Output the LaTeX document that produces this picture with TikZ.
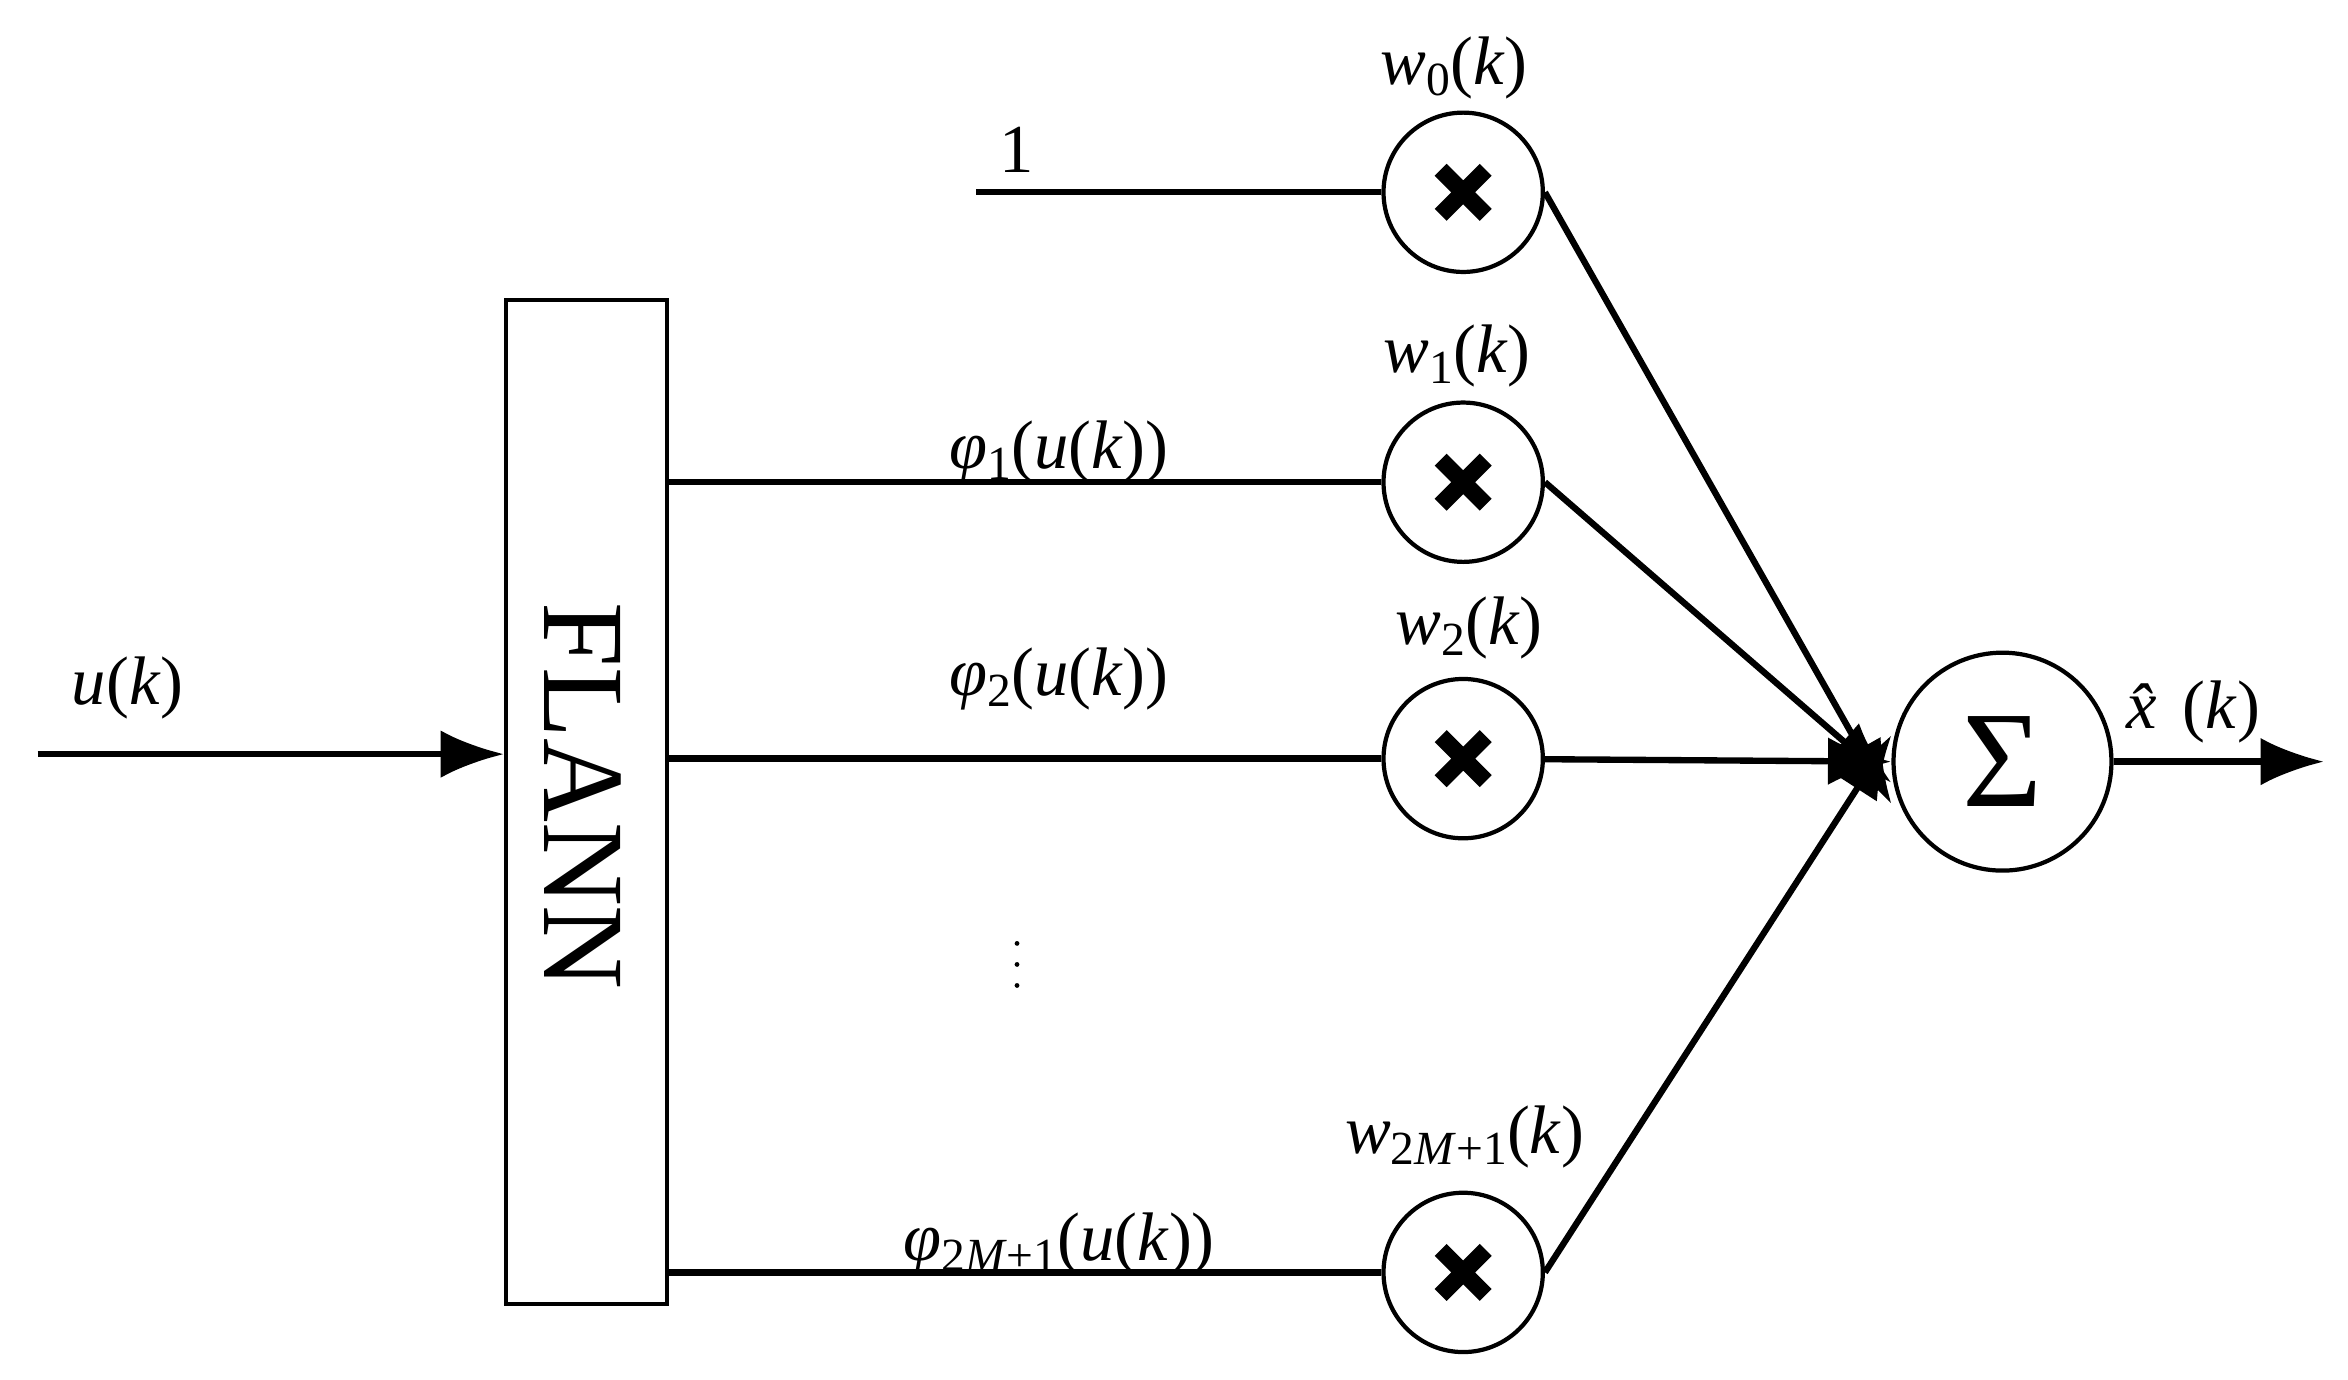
\documentclass[tikz,border=0pt]{standalone}
\usepackage{fontspec}
\setmainfont{Liberation Serif}
\usetikzlibrary{arrows.meta}
\newcommand{\sbs}[1]{\raisebox{-0.35ex}{\fontsize{9}{10}\selectfont #1}}
\begin{document}
\begin{tikzpicture}[x=0.01cm,y=-0.01cm,
  mul/.style={circle,draw,line width=0.8pt,minimum size=1.06cm,inner sep=0},
  ln/.style={line width=1.2pt},
  arr/.style={ln,-{Latex[length=12pt,width=9pt]}},
  lab/.style={font=\fontsize{13}{15}\selectfont}]
\useasboundingbox (0,0) rectangle (1563,918);
\node[draw,line width=0.8pt,minimum width=1.07cm,minimum height=6.68cm,inner sep=0] (fl) at (390.5,534) {};
\node[rotate=-90,font=\fontsize{22}{24}\selectfont] (flt) at (388,530) {FLANN};
\coordinate (in) at (25,502);
\draw[arr] (in) -- (fl.west |- in);
\node[lab] (lu) at (85,458) {\textit{u}(\textit{k})};
\foreach \n/\y in {0/128,1/321,2/505,3/847}{
  \node[mul] (m\n) at (974,\y) {};
  \draw[line width=3.2pt] ([shift={(-15,-15)}]m\n.center) -- ([shift={(15,15)}]m\n.center)
      ([shift={(-15,15)}]m\n.center) -- ([shift={(15,-15)}]m\n.center);
}
\coordinate (one) at (650,128);
\draw[ln] (one) -- (m0);
\node[lab] (l1) at (677,100) {1};
\draw[ln] (fl.east |- m1) -- (m1);
\draw[ln] (fl.east |- m2) -- (m2);
\draw[ln] (fl.east |- m3) -- (m3);
\node[lab] (p1) at (705,301) {\textit{φ}\sbs{1}(\textit{u}(\textit{k}))};
\node[lab] (p2) at (705,452) {\textit{φ}\sbs{2}(\textit{u}(\textit{k}))};
\node[lab] (p3) at (705,828) {\textit{φ}\sbs{2\textit{M}+1}(\textit{u}(\textit{k}))};
\foreach \d in {628,642,656} \fill (677,\d) circle (1.6);
\node[lab] (w0) at (968,45) {\textit{w}\sbs{0}(\textit{k})};
\node[lab] (w1) at (970,237) {\textit{w}\sbs{1}(\textit{k})};
\node[lab] (w2) at (978,418) {\textit{w}\sbs{2}(\textit{k})};
\node[lab] (w3) at (975,757) {\textit{w}\sbs{2\textit{M}+1}(\textit{k})};
\node[circle,draw,line width=0.8pt,minimum size=1.45cm,inner sep=0,font=\fontsize{26}{28}\selectfont] (s) at (1333,507) {Σ};
\draw[arr] (m0.east) -- ([yshift=-8]s.west);
\draw[arr] (m1.east) -- ([yshift=-4]s.west);
\draw[arr] (m2) -- (s.west);
\draw[arr] (m3.east) -- ([yshift=5]s.west);
\coordinate (out) at (1547,507);
\draw[arr] (s) -- (out);
\node[lab] (xh) at (1460,474) {\textit{\^x}(\textit{k})};
\end{tikzpicture}
\end{document}
